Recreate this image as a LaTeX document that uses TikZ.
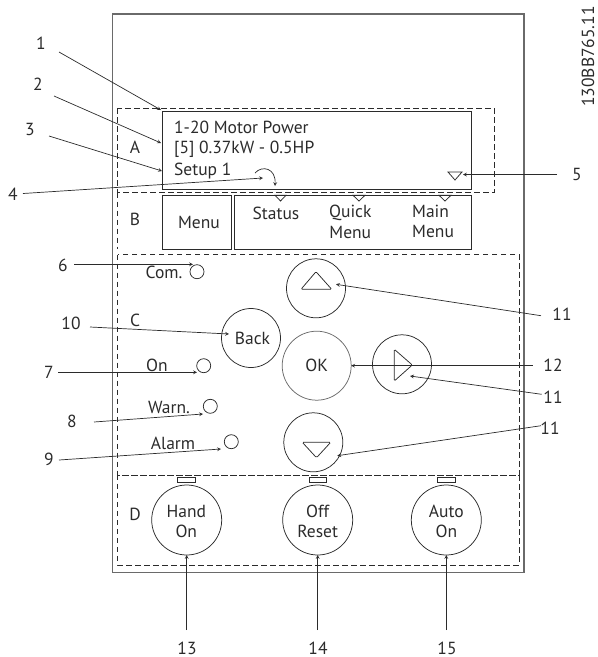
\documentclass[tikz,border=0pt]{standalone}
\usepackage{fontspec}
\setmainfont{PT Sans}
\usetikzlibrary{positioning,arrows}
\definecolor{ink}{HTML}{2B2B2B}
\definecolor{frame}{HTML}{6A6A6A}
\newcommand{\keyfont}{\fontsize{17.5}{20.5}\selectfont}
\tikzset{%
	block/.style    = {draw=ink, line width=0.75pt, rectangle, inner sep=0pt, outer sep=0pt},
	bigkey/.style   = {draw=ink, line width=0.75pt, circle, inner sep=0pt, outer sep=0pt, minimum size=59pt, align=center, text=ink, font=\keyfont},
	handkey/.style  = {bigkey, minimum size=70pt},
	lamp/.style     = {draw=ink, line width=0.75pt, circle, inner sep=0pt, minimum size=14pt},
	ledbar/.style   = {block, minimum width=17.5pt, minimum height=5.5pt},
	zone/.style     = {draw=ink, line width=0.6pt, dash pattern=on 5.5pt off 3.5pt},
	glyph/.style    = {draw=ink, line width=0.75pt, rounded corners=1.2pt},
	txt/.style      = {text=ink, inner sep=0pt, font=\keyfont, align=center},
	num/.style      = {txt},
	lead/.style     = {->, draw=ink, line width=0.7pt}
}
\begin{document}
\begin{tikzpicture}[x=1pt, y=-1pt, >=stealth]
        \useasboundingbox (0,0) rectangle (598,657);
        % housing and zones
        \draw[frame, line width=1.3pt] (112.3,14) rectangle (524,572.5);
        \draw[zone] (117.5,108) rectangle (494,192.5);
        \draw[zone] (117.5,192.5) -- (117.5,249);
        \draw[zone] (117.5,254.5) rectangle (519,474.8);
        \draw[zone] (117.5,474.8) rectangle (519,565);
        % display and softkeys
        \draw
            node at (317,150.5)[block, minimum width=309pt, minimum height=78pt, name=lcp]{}
            node at (197,222)[block, minimum width=68.5pt, minimum height=54pt, name=menu]{}
            node at (352.7,222)[block, minimum width=237.5pt, minimum height=54pt, name=softkeys]{};
        \node [txt, anchor=west] (line1) at (174,127) {1-20 Motor Power};
        \node [txt, anchor=west] (line2) at (174,149) {[5] 0.37kW - 0.5HP};
        \node [txt, anchor=west] (line3) at (174,171) {Setup 1};
        \node [txt] (menutxt) at (199,222) {Menu};
        \node [txt] (status) at (276,213) {Status};
        \node [txt] (quick) at (350.3,222) {Quick\\Menu};
        \node [txt, anchor=west, align=left] (mainm) at (412,221.5) {Main\\Menu};
        \draw[glyph, rounded corners=0pt] (448,172) -- (462,172) -- (455,180) -- cycle;
        \draw[glyph, rounded corners=0pt] (275,195.3) -- (286,195.3) -- (280.5,201) -- cycle;
        \draw[glyph, rounded corners=0pt] (353,195.3) -- (365,195.3) -- (359,201) -- cycle;
        \draw[glyph, rounded corners=0pt] (439,195.3) -- (451,195.3) -- (445,201) -- cycle;
        \draw[->, draw=ink, line width=0.7pt] (255,173) .. controls (262,165) and (276,168) .. (275,186);
        % zone letters
        \node [txt] (zonea) at (135,147) {A};
        \node [txt] (zoneb) at (135,219.5) {B};
        \node [txt] (zonec) at (135,320) {C};
        \node [txt] (zoned) at (135,514) {D};
        % lamps
        \node [lamp] (com) at (197,271.7) {};
        \node [lamp] (on) at (203.7,365.7) {};
        \node [lamp] (warn) at (210.3,406.3) {};
        \node [lamp] (alarm) at (231.3,441.7) {};
        \node [txt] (comtxt) at (164,272) {Com.};
        \node [txt] (ontxt) at (157,365) {On};
        \node [txt] (warntxt) at (169,407) {Warn.};
        \node [txt] (alarmtxt) at (173,443) {Alarm};
        % keys
        \draw
            node at (316,288.3)[bigkey, name=up]{}
            node at (251,338)[bigkey, name=back]{}
            node at (316.7,365.7)[bigkey, draw=frame, minimum size=69pt, name=ok]{OK}
            node at (402,364.3)[bigkey, name=right]{}
            node at (313.3,442.3)[bigkey, name=down]{};
        \node [txt] (backtxt) at (252.5,338) {Back};
        \draw[glyph] (301,289.3) -- (331.7,289.3) -- (316,271.7) -- cycle;
        \draw[glyph] (394.3,349.3) -- (394.3,381) -- (412.3,365) -- cycle;
        \draw[glyph] (302.3,442.3) -- (330.7,442.3) -- (316.5,457.7) -- cycle;
        \draw
            node at (186.7,520)[handkey, name=hand]{}
            node at (317.7,520)[handkey, name=off]{}
            node at (446.3,520)[handkey, name=auto]{}
            node at (186.3,480)[ledbar, name=handled]{}
            node at (318,480)[ledbar, name=offled]{}
            node at (446.3,480)[ledbar, name=autoled]{};
        \node [txt] (handtxt) at (186.3,521.5) {Hand\\On};
        \node [txt] (offtxt) at (317.7,521.5) {Off\\Reset};
        \node [txt] (autotxt) at (446.3,521.5) {Auto\\On};
        % numbers
        \node [num] (n1) at (41,43) {1};
        \node [num] (n2) at (38,84) {2};
        \node [num] (n3) at (30,129) {3};
        \node [num] (n4) at (13,194) {4};
        \node [num] (n5) at (577,174) {5};
        \node [num] (n6) at (63,265) {6};
        \node [num] (n7) at (49,372) {7};
        \node [num] (n8) at (72,421) {8};
        \node [num] (n9) at (49,459) {9};
        \node [num] (n10) at (71,323) {10};
        \node [num] (n11a) at (562,314) {11};
        \node [num] (n12) at (553,365) {12};
        \node [num] (n11b) at (553,397) {11};
        \node [num] (n11c) at (550,428) {11};
        \node [num] (n13) at (187,648) {13};
        \node [num] (n14) at (318,648) {14};
        \node [num] (n15) at (447,648) {15};
        \node [txt, rotate=90] (docid) at (588,56.5) {130BB765.11};
        % free ends of the leaders
        \coordinate (t1) at (59,52);        \coordinate (h1) at (161,110);
        \coordinate (t2) at (54,96);        \coordinate (h2) at (161,143);
        \coordinate (t3) at (49,136);       \coordinate (h3) at (162,171);
        \coordinate (t4) at (23,193.5);     \coordinate (h4) at (263,178);
        \coordinate (t5) at (557,174.5);    \coordinate (h5) at (463,174.5);
        \coordinate (t6) at (74,264.3);     \coordinate (h6) at (193,264.3);
        \coordinate (t7) at (58,372.3);     \coordinate (h7) at (197,372.3);
        \coordinate (t8) at (94,422);       \coordinate (h8) at (203,414);
        \coordinate (t9) at (59,460);       \coordinate (h9) at (221,449);
        \coordinate (t10) at (90,327);      \coordinate (h10) at (229,334);
        \coordinate (t11a) at (541,315.7);  \coordinate (h11a) at (336,284.3);
        \coordinate (t12) at (532.7,365.7);
        \coordinate (t11b) at (541.7,394.3); \coordinate (h11b) at (410,376);
        \coordinate (t11c) at (541,425.7);  \coordinate (h11c) at (337.3,455.7);
        \coordinate (t13) at (186.7,630);
        \coordinate (t14) at (317.7,630);
        \coordinate (t15) at (446.3,630);
        % leaders
        \draw[lead](t1) -- (h1);
        \draw[lead](t2) -- (h2);
        \draw[lead](t3) -- (h3);
        \draw[lead](t4) -- (h4);
        \draw[lead](t5) -- (h5);
        \draw[lead](t6) -- (h6);
        \draw[lead](t7) -- (h7);
        \draw[lead](t8) -- (h8);
        \draw[lead](t9) -- (h9);
        \draw[lead](t10) -- (h10);
        \draw[lead](t11a) -- (h11a);
        \draw[lead](t12) -- (ok.east);
        \draw[lead](t11b) -- (h11b);
        \draw[lead](t11c) -- (h11c);
        \draw[lead](t13) -- (hand.south);
        \draw[lead](t14) -- (off.south);
        \draw[lead](t15) -- (auto.south);
\end{tikzpicture}
\end{document}
